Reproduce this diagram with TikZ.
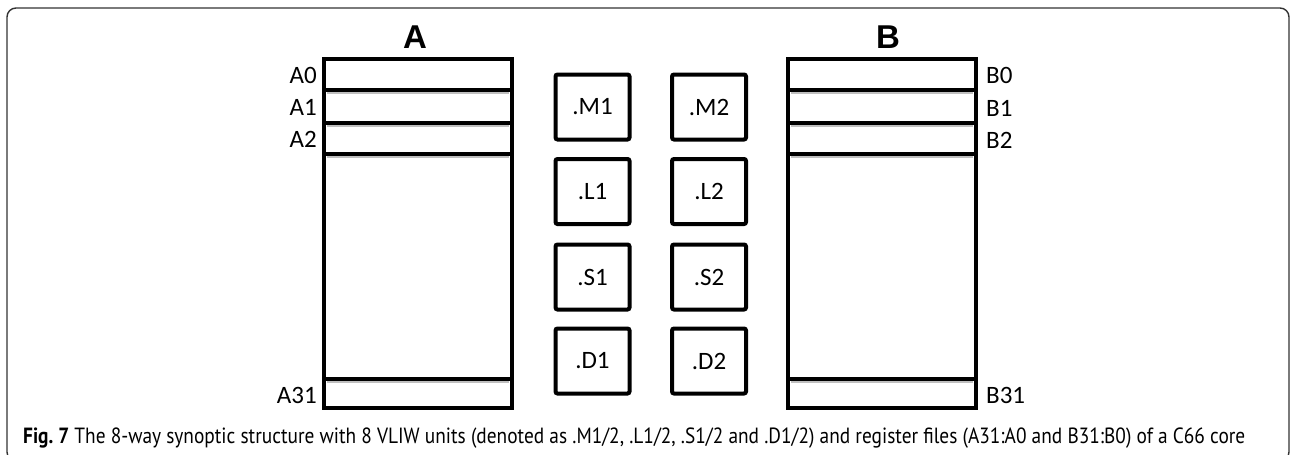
\documentclass[tikz,border=0pt]{standalone}
\usepackage{fontspec}
\setmainfont{Carlito}
\newfontfamily\headfont{Liberation Sans}
\newfontfamily\capfont{PT Sans}
\newsavebox\captionbox
\begin{document}
\sbox\captionbox{\capfont\fontsize{22}{24}\selectfont\textbf{Fig.\ 7} The 8-way synoptic structure with 8 VLIW units (denoted as .M1/2, .L1/2, .S1/2 and .D1/2) and register files (A31:A0 and B31:B0) of a C66 core}%
\begin{tikzpicture}[x=1pt,y=-1pt,
  regrow/.style={draw=black, line width=4pt, inner sep=0pt, outer sep=0pt,
    minimum width=188pt, anchor=north west},
  unitbox/.style={draw=black, line width=4pt, rounded corners=2pt,
    minimum width=74pt, minimum height=65pt, inner sep=0pt,
    font=\fontsize{25}{27}\selectfont},
  reglabel/.style={inner sep=0pt, font=\fontsize{25}{27}\selectfont},
  filehead/.style={inner sep=0pt, font=\headfont\bfseries\fontsize{33}{35}\selectfont},
  rowshade/.style={draw=black!25, line width=2.5pt}]
\useasboundingbox (0,0) rectangle (1291,455);

% outer frame of the figure panel
\draw[line width=1.4pt, black!80, rounded corners=9pt] (7,8) rectangle (1289,461);

% soft shading under the row dividers (drawn first, rows go on top)
\foreach \x in {324,788}{
  \foreach \y in {90,123,154,379}{
    \draw[rowshade] (\x+3,\y+3) -- (\x+185,\y+3);
  }
}

% register file A
\node[regrow, minimum height=31pt]  (a0)  at (324,59)  {};
\node[regrow, minimum height=33pt]  (a1)  at (324,90)  {};
\node[regrow, minimum height=31pt]  (a2)  at (324,123) {};
\node[regrow, minimum height=225pt] (amid) at (324,154) {};
\node[regrow, minimum height=29pt]  (a31) at (324,379) {};
% register file B
\node[regrow, minimum height=31pt]  (b0)  at (788,59)  {};
\node[regrow, minimum height=33pt]  (b1)  at (788,90)  {};
\node[regrow, minimum height=31pt]  (b2)  at (788,123) {};
\node[regrow, minimum height=225pt] (bmid) at (788,154) {};
\node[regrow, minimum height=29pt]  (b31) at (788,379) {};

% file headings
\node[filehead] (ha) at (415,37) {A};
\node[filehead] (hb) at (888,37) {B};

% register labels
\node[reglabel, anchor=east] (la0)  at ([xshift=-7pt,yshift=-1pt]a0.west)  {A0};
\node[reglabel, anchor=east] (la1)  at ([xshift=-7pt,yshift=-1pt]a1.west)  {A1};
\node[reglabel, anchor=east] (la2)  at ([xshift=-7pt,yshift=-1pt]a2.west)  {A2};
\node[reglabel, anchor=east] (la31) at ([xshift=-7pt,yshift=-2pt]a31.west) {A31};
\node[reglabel, anchor=west] (lb0)  at ([xshift=10pt,yshift=-1pt]b0.east)  {B0};
\node[reglabel, anchor=west] (lb1)  at ([xshift=10pt,yshift=-2pt]b1.east)  {B1};
\node[reglabel, anchor=west] (lb2)  at ([xshift=10pt,yshift=-2pt]b2.east)  {B2};
\node[reglabel, anchor=west] (lb31) at ([xshift=10pt,yshift=-2pt]b31.east) {B31};

% functional units
\node[unitbox] (m1) at (592.5,107) {.M1};
\node[unitbox] (m2) at (709,107)   {.M2};
\node[unitbox] (l1) at (592.5,191.5) {.L1};
\node[unitbox] (l2) at (709,191.5)   {.L2};
\node[unitbox] (s1) at (592.5,277) {.S1};
\node[unitbox] (s2) at (709,277)   {.S2};
\node[unitbox] (d1) at (592.5,361) {.D1};
\node[unitbox] (d2) at (709,361)   {.D2};

% caption
\node[anchor=base west, inner sep=0pt] (cap) at (23,443) {\resizebox{1222pt}{\height}{\usebox\captionbox}};
\end{tikzpicture}
\end{document}
